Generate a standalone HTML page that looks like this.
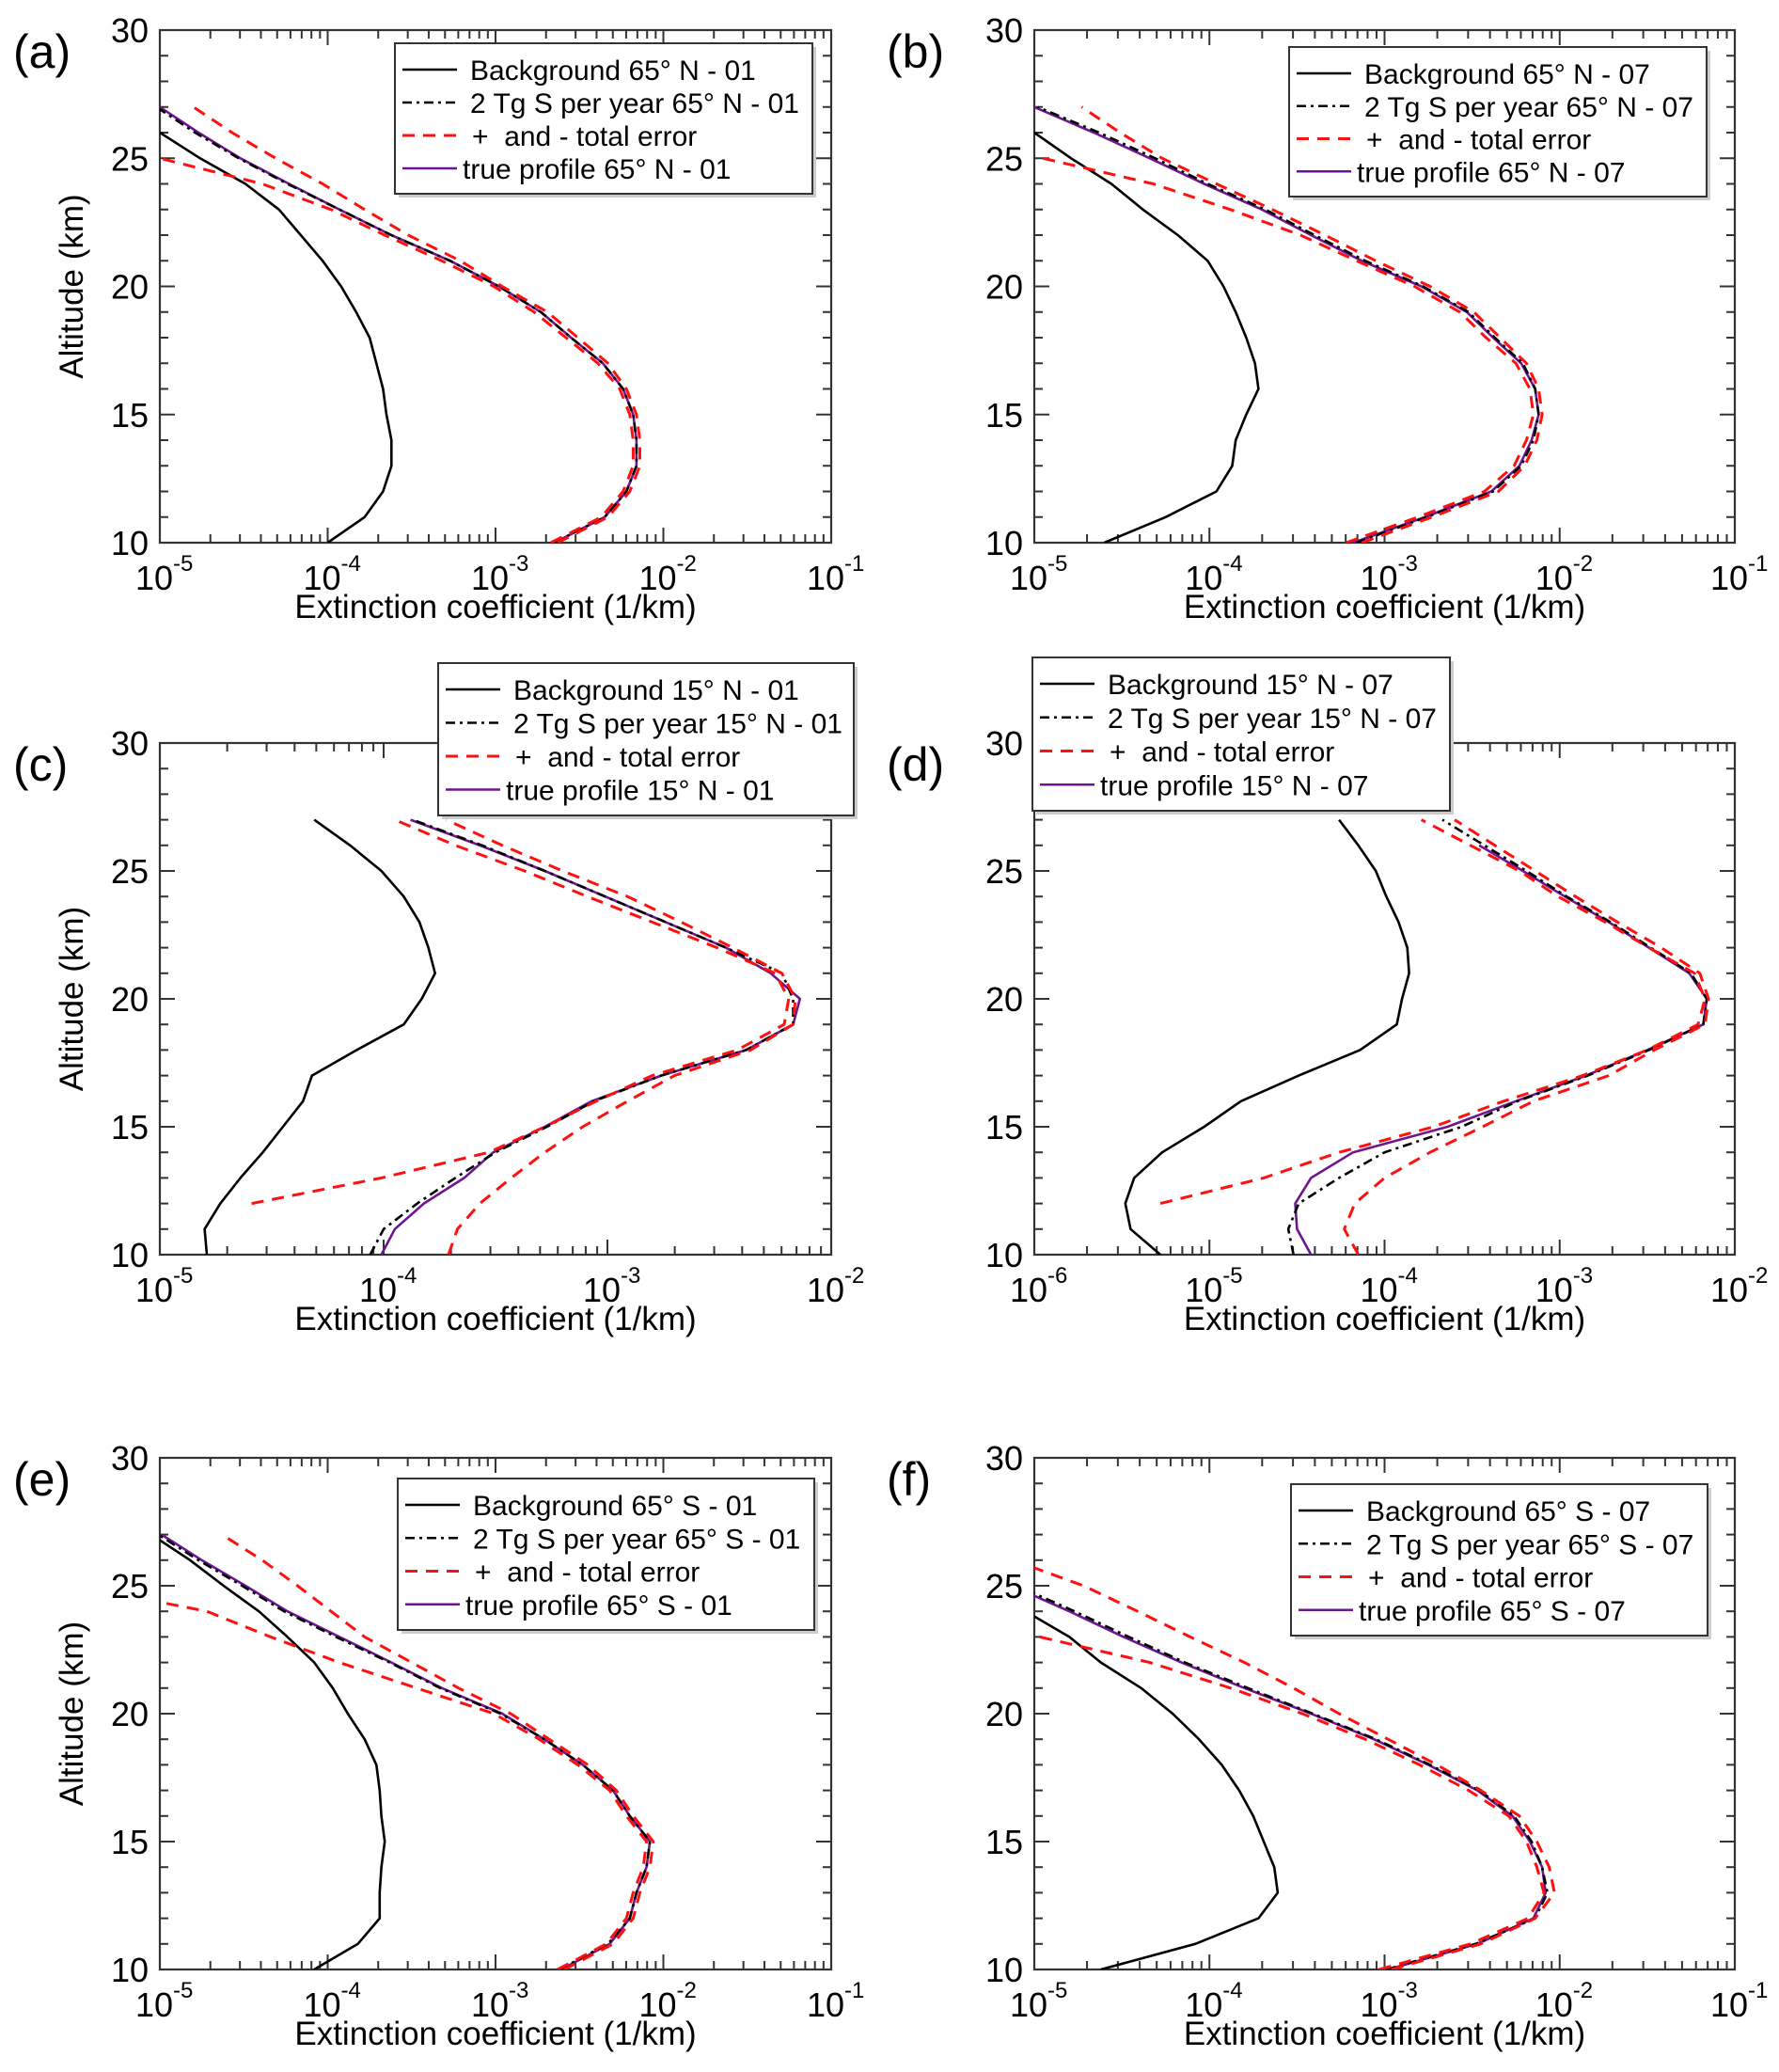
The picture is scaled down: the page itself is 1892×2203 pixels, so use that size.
<!DOCTYPE html>
<html><head><meta charset="utf-8">
<style>
html,body{margin:0;padding:0;background:#fff;}
svg{display:block;font-family:"Liberation Sans",Arial,sans-serif;}
</style></head>
<body>
<svg id="fig" width="1892" height="2203" viewBox="0 0 1892 2203" xmlns="http://www.w3.org/2000/svg"></svg>
<script>
// Altitude grid (km)
const altitudes = [10,11,12,13,14,15,16,17,18,19,20,21,22,23,24,25,26,27];
// log10 extinction coefficient (1/km) per series, index 0 = 10 km
// (a) 65N - 01
const bgA   = [-4.00,-3.78,-3.67,-3.62,-3.62,-3.65,-3.67,-3.71,-3.75,-3.83,-3.92,-4.03,-4.16,-4.29,-4.49,-4.76,-5.00,null];
const trueA = [-2.65,-2.35,-2.22,-2.16,-2.16,-2.18,-2.24,-2.36,-2.55,-2.73,-2.98,-3.27,-3.62,-3.93,-4.23,-4.52,-4.77,-5.00];
const tgA   = [-2.65,-2.35,-2.22,-2.16,-2.16,-2.18,-2.24,-2.36,-2.55,-2.73,-2.98,-3.27,-3.62,-3.93,-4.24,-4.53,-4.79,-5.02];
const upA   = [-2.63,-2.33,-2.20,-2.14,-2.14,-2.16,-2.22,-2.33,-2.51,-2.69,-2.96,-3.21,-3.52,-3.78,-4.03,-4.31,-4.57,-4.80];
const loA   = [-2.67,-2.37,-2.24,-2.18,-2.18,-2.20,-2.26,-2.39,-2.58,-2.77,-3.01,-3.32,-3.66,-3.98,-4.39,-5.00,null,null];
// (b) 65N - 07
const bgB   = [-4.60,-4.25,-3.96,-3.87,-3.85,-3.79,-3.72,-3.74,-3.79,-3.85,-3.92,-4.01,-4.18,-4.38,-4.56,-4.79,-5.00,null];
const trueB = [-3.18,-2.77,-2.39,-2.23,-2.16,-2.12,-2.14,-2.22,-2.38,-2.53,-2.79,-3.13,-3.42,-3.70,-4.03,-4.34,-4.66,-5.00];
const tgB   = [-3.16,-2.76,-2.38,-2.22,-2.15,-2.12,-2.14,-2.21,-2.37,-2.52,-2.78,-3.11,-3.40,-3.68,-4.01,-4.31,-4.63,-4.98];
const upB   = [-3.13,-2.73,-2.35,-2.20,-2.13,-2.10,-2.12,-2.19,-2.34,-2.49,-2.74,-3.05,-3.34,-3.64,-3.96,-4.27,-4.51,-4.73];
const loB   = [-3.22,-2.81,-2.43,-2.26,-2.19,-2.15,-2.17,-2.25,-2.42,-2.57,-2.83,-3.16,-3.48,-3.88,-4.32,-4.95,null,null];
// (c) 15N - 01
const bgC   = [-4.79,-4.80,-4.73,-4.64,-4.54,-4.45,-4.36,-4.32,-4.12,-3.91,-3.83,-3.77,-3.80,-3.84,-3.91,-4.01,-4.15,-4.31];
const trueC = [-4.01,-3.95,-3.82,-3.64,-3.51,-3.28,-3.07,-2.76,-2.38,-2.17,-2.14,-2.27,-2.47,-2.74,-3.01,-3.28,-3.57,-3.88];
const tgC   = [-4.06,-4.00,-3.85,-3.68,-3.50,-3.27,-3.06,-2.76,-2.38,-2.17,-2.17,-2.22,-2.47,-2.74,-3.01,-3.28,-3.56,-3.87];
const upC   = [-3.71,-3.67,-3.57,-3.43,-3.28,-3.11,-2.91,-2.70,-2.36,-2.17,-2.16,-2.22,-2.44,-2.67,-2.91,-3.20,-3.47,-3.72];
const loC   = [null,null,-4.59,-4.01,-3.53,-3.28,-3.05,-2.80,-2.42,-2.21,-2.19,-2.25,-2.51,-2.80,-3.09,-3.37,-3.68,-3.95];
// (d) 15N - 07
const bgD   = [-5.28,-5.45,-5.48,-5.43,-5.27,-5.03,-4.82,-4.49,-4.14,-3.93,-3.90,-3.86,-3.87,-3.92,-3.99,-4.05,-4.15,-4.26];
const trueD = [-4.42,-4.50,-4.51,-4.42,-4.18,-3.64,-3.25,-2.85,-2.50,-2.18,-2.16,-2.26,-2.49,-2.72,-2.97,-3.21,-3.46,null];
const tgD   = [-4.52,-4.55,-4.49,-4.26,-4.00,-3.56,-3.24,-2.84,-2.49,-2.18,-2.16,-2.25,-2.48,-2.71,-2.96,-3.19,-3.43,-3.67];
const upD   = [-4.15,-4.23,-4.17,-4.00,-3.74,-3.44,-3.15,-2.72,-2.46,-2.17,-2.15,-2.20,-2.42,-2.67,-2.91,-3.14,-3.37,-3.60];
const loD   = [null,null,-5.28,-4.69,-4.26,-3.72,-3.32,-2.87,-2.50,-2.21,-2.17,-2.23,-2.49,-2.74,-3.01,-3.23,-3.51,-3.79];
// (e) 65S - 01
const bgE   = [-4.08,-3.82,-3.69,-3.69,-3.68,-3.66,-3.68,-3.69,-3.71,-3.78,-3.88,-3.97,-4.08,-4.24,-4.41,-4.62,-4.82,-5.05];
const trueE = [-2.61,-2.32,-2.20,-2.16,-2.10,-2.08,-2.20,-2.30,-2.48,-2.71,-2.96,-3.32,-3.62,-3.93,-4.24,-4.49,-4.75,-4.99];
const tgE   = [-2.62,-2.33,-2.20,-2.16,-2.10,-2.08,-2.20,-2.30,-2.48,-2.71,-2.97,-3.33,-3.63,-3.95,-4.26,-4.51,-4.77,-5.01];
const upE   = [-2.59,-2.30,-2.18,-2.14,-2.08,-2.06,-2.18,-2.28,-2.45,-2.68,-2.91,-3.22,-3.50,-3.78,-3.98,-4.18,-4.39,-4.63];
const loE   = [-2.63,-2.34,-2.22,-2.18,-2.12,-2.10,-2.22,-2.32,-2.51,-2.74,-3.01,-3.47,-3.93,-4.34,-4.72,-5.50,null,null];
// (f) 65S - 07
const bgF   = [-4.62,-4.08,-3.72,-3.61,-3.63,-3.69,-3.75,-3.83,-3.93,-4.06,-4.21,-4.39,-4.62,-4.80,-5.05,null,null,null];
const trueF = [-2.98,-2.47,-2.15,-2.08,-2.10,-2.17,-2.27,-2.47,-2.75,-3.06,-3.42,-3.80,-4.16,-4.49,-4.80,-5.13,null,null];
const tgF   = [-2.99,-2.48,-2.14,-2.07,-2.10,-2.16,-2.26,-2.46,-2.74,-3.05,-3.41,-3.78,-4.14,-4.46,-4.77,-5.10,null,null];
const upF   = [-2.96,-2.45,-2.14,-2.03,-2.06,-2.13,-2.23,-2.45,-2.70,-2.98,-3.26,-3.52,-3.80,-4.11,-4.41,-4.72,-5.12,null];
const loF   = [-3.03,-2.51,-2.18,-2.09,-2.13,-2.19,-2.29,-2.52,-2.80,-3.11,-3.47,-3.88,-4.34,-4.97,null,null,null,null];
// y-axis tick labels (km)
const yTickLabels = [10,15,20,25,30];

const NS = "http://www.w3.org/2000/svg";
const svg = document.getElementById('fig');
function mk(tag, attrs, parent){ const e=document.createElementNS(NS,tag); for(const k in attrs) e.setAttribute(k,attrs[k]); (parent||svg).appendChild(e); return e; }

const panels = [
 {id:'a', lab:'(a)', x0:170, x1:884, y0:32, y1:577, lmin:-5, lmax:-1, ytitle:true, lat:'65° N', mon:'01',
  bg:bgA, tr:trueA, tg:tgA, up:upA, lo:loA, lx:420, ly:46, lw:444, lh:160, labx:14},
 {id:'b', lab:'(b)', x0:1100, x1:1845, y0:32, y1:577, lmin:-5, lmax:-1, ytitle:false, lat:'65° N', mon:'07',
  bg:bgB, tr:trueB, tg:tgB, up:upB, lo:loB, lx:1371, ly:50, lw:444, lh:159, labx:943},
 {id:'c', lab:'(c)', x0:170, x1:884, y0:790, y1:1334, lmin:-5, lmax:-2, ytitle:true, lat:'15° N', mon:'01',
  bg:bgC, tr:trueC, tg:tgC, up:upC, lo:loC, lx:466, ly:705, lw:442, lh:162, labx:14},
 {id:'d', lab:'(d)', x0:1100, x1:1845, y0:790, y1:1334, lmin:-6, lmax:-2, ytitle:false, lat:'15° N', mon:'07',
  bg:bgD, tr:trueD, tg:tgD, up:upD, lo:loD, lx:1098, ly:699, lw:444, lh:163, labx:943},
 {id:'e', lab:'(e)', x0:170, x1:884, y0:1550, y1:2094, lmin:-5, lmax:-1, ytitle:true, lat:'65° S', mon:'01',
  bg:bgE, tr:trueE, tg:tgE, up:upE, lo:loE, lx:423, ly:1572, lw:443, lh:161, labx:14},
 {id:'f', lab:'(f)', x0:1100, x1:1845, y0:1550, y1:2094, lmin:-5, lmax:-1, ytitle:false, lat:'65° S', mon:'07',
  bg:bgF, tr:trueF, tg:tgF, up:upF, lo:loF, lx:1373, ly:1578, lw:443, lh:161, labx:943}
];

function xScale(p, lv){ return p.x0 + (lv - p.lmin)/(p.lmax-p.lmin)*(p.x1-p.x0); }
function yScale(p, alt){ return p.y1 - (alt-10)/20*(p.y1-p.y0); }

function pathFor(p, vals){
  let d='', pen=false;
  for(let i=0;i<altitudes.length;i++){
    const v=vals[i];
    if(v===null||v===undefined){ pen=false; continue; }
    d += (pen?'L':'M') + xScale(p,v).toFixed(1) + ' ' + yScale(p,altitudes[i]).toFixed(1) + ' ';
    pen=true;
  }
  return d;
}

panels.forEach(p=>{
  const g = mk('g',{});
  
  

  const cp = mk('clipPath',{id:'clip-'+p.id}, g);
  mk('rect',{x:p.x0,y:p.y0,width:p.x1-p.x0,height:p.y1-p.y0}, cp);

  const pl = mk('text',{x:p.labx, y:p.y0+40, 'font-size':50, fill:'#000'}, g);
  pl.textContent = p.lab;
  
  

  const tk = mk('g',{stroke:'#333','stroke-width':2}, g);
  
  
  for(let a=10;a<=30;a++){
    const y=yScale(p,a), L=(a%5===0)?16:9;
    mk('line',{x1:p.x0,y1:y,x2:p.x0+L,y2:y},tk);
    mk('line',{x1:p.x1,y1:y,x2:p.x1-L,y2:y},tk);
  }
  for(let e=p.lmin;e<=p.lmax;e++){
    for(let m=1;m<=9;m++){
      const lv=e+Math.log10(m);
      if(lv>p.lmax+1e-9) break;
      const x=xScale(p,lv), L=(m===1)?16:9;
      mk('line',{x1:x,y1:p.y1,x2:x,y2:p.y1-L},tk);
      mk('line',{x1:x,y1:p.y0,x2:x,y2:p.y0+L},tk);
    }
  }
  const fr = mk('rect',{x:p.x0,y:p.y0,width:p.x1-p.x0,height:p.y1-p.y0,fill:'none',stroke:'#333','stroke-width':2.2}, g);
  
  

  yTickLabels.forEach(v=>{
    const t = mk('text',{x:p.x0-12, y:yScale(p,v)+13, 'font-size':36, 'text-anchor':'end', fill:'#000'}, g);
    t.textContent = v;
    
    
  });
  for(let e=p.lmin;e<=p.lmax;e++){
    const x=xScale(p,e);
    const t = mk('text',{x:x-6, y:p.y1+50, 'font-size':36, 'text-anchor':'middle', fill:'#000'}, g);
    t.textContent='10';
    
    
    const s = mk('text',{x:x+14, y:p.y1+30, 'font-size':24, fill:'#000'}, g);
    s.textContent=String(e);
    
    
  }
  const xt = mk('text',{x:(p.x0+p.x1)/2, y:p.y1+80, 'font-size':35, 'text-anchor':'middle', fill:'#000'}, g);
  xt.textContent='Extinction coefficient (1/km)';
  
  
  if(p.ytitle){
    const cy=(p.y0+p.y1)/2;
    const yt = mk('text',{x:88, y:cy, 'font-size':35, 'text-anchor':'middle', fill:'#000', transform:'rotate(-90 88 '+cy+')'}, g);
    yt.textContent='Altitude (km)';
    
    
  }

  const sg = mk('g',{'clip-path':'url(#clip-'+p.id+')', fill:'none', 'stroke-linejoin':'round'}, g);
  const bgp = mk('path',{d:pathFor(p,p.bg), stroke:'#000', 'stroke-width':2.6}, sg);
  
  
  const trp = mk('path',{d:pathFor(p,p.tr), stroke:'#6e168f', 'stroke-width':2.6}, sg);
  
  
  const tgp = mk('path',{d:pathFor(p,p.tg), stroke:'#000', 'stroke-width':2.6, 'stroke-dasharray':'10 5 3 5'}, sg);
  
  
  const upp = mk('path',{d:pathFor(p,p.up), stroke:'#ff1010', 'stroke-width':3, 'stroke-dasharray':'13 9'}, sg);
  
  
  const lop = mk('path',{d:pathFor(p,p.lo), stroke:'#ff1010', 'stroke-width':3, 'stroke-dasharray':'13 9'}, sg);
  
  

  const lg = mk('g',{}, g);
  
  
  mk('rect',{x:p.lx+4,y:p.ly+4,width:p.lw,height:p.lh,fill:'#ccc'},lg);
  mk('rect',{x:p.lx,y:p.ly,width:p.lw,height:p.lh,fill:'#fff',stroke:'#333','stroke-width':2},lg);
  const rows = [
    {txt:'Background '+p.lat+' - '+p.mon, st:{stroke:'#000'}, tx:80, nm:'legend-entry-background'},
    {txt:'2 Tg S per year '+p.lat+' - '+p.mon, st:{stroke:'#000','stroke-dasharray':'10 5 3 5'}, tx:80, nm:'legend-entry-2tg'},
    {txt:'+  and - total error', st:{stroke:'#ff1010','stroke-dasharray':'13 9','stroke-width':3}, tx:82, nm:'legend-entry-error'},
    {txt:'true profile '+p.lat+' - '+p.mon, st:{stroke:'#6e168f'}, tx:72, nm:'legend-entry-true'}
  ];
  const rowStep = (p.lh-20)/4;
  rows.forEach((r,i)=>{
    const cy = p.ly + 28 + i*rowStep;
    const ln = mk('line',Object.assign({x1:p.lx+8,y1:cy,x2:p.lx+66,y2:cy,'stroke-width':2.6},r.st),lg);
    
    
    const t = mk('text',{x:p.lx+r.tx, y:cy+11, 'font-size':30, fill:'#000'},lg);
    t.setAttribute('style','white-space:pre');
    t.textContent = r.txt;
    
    
  });
});
</script>
</body></html>
